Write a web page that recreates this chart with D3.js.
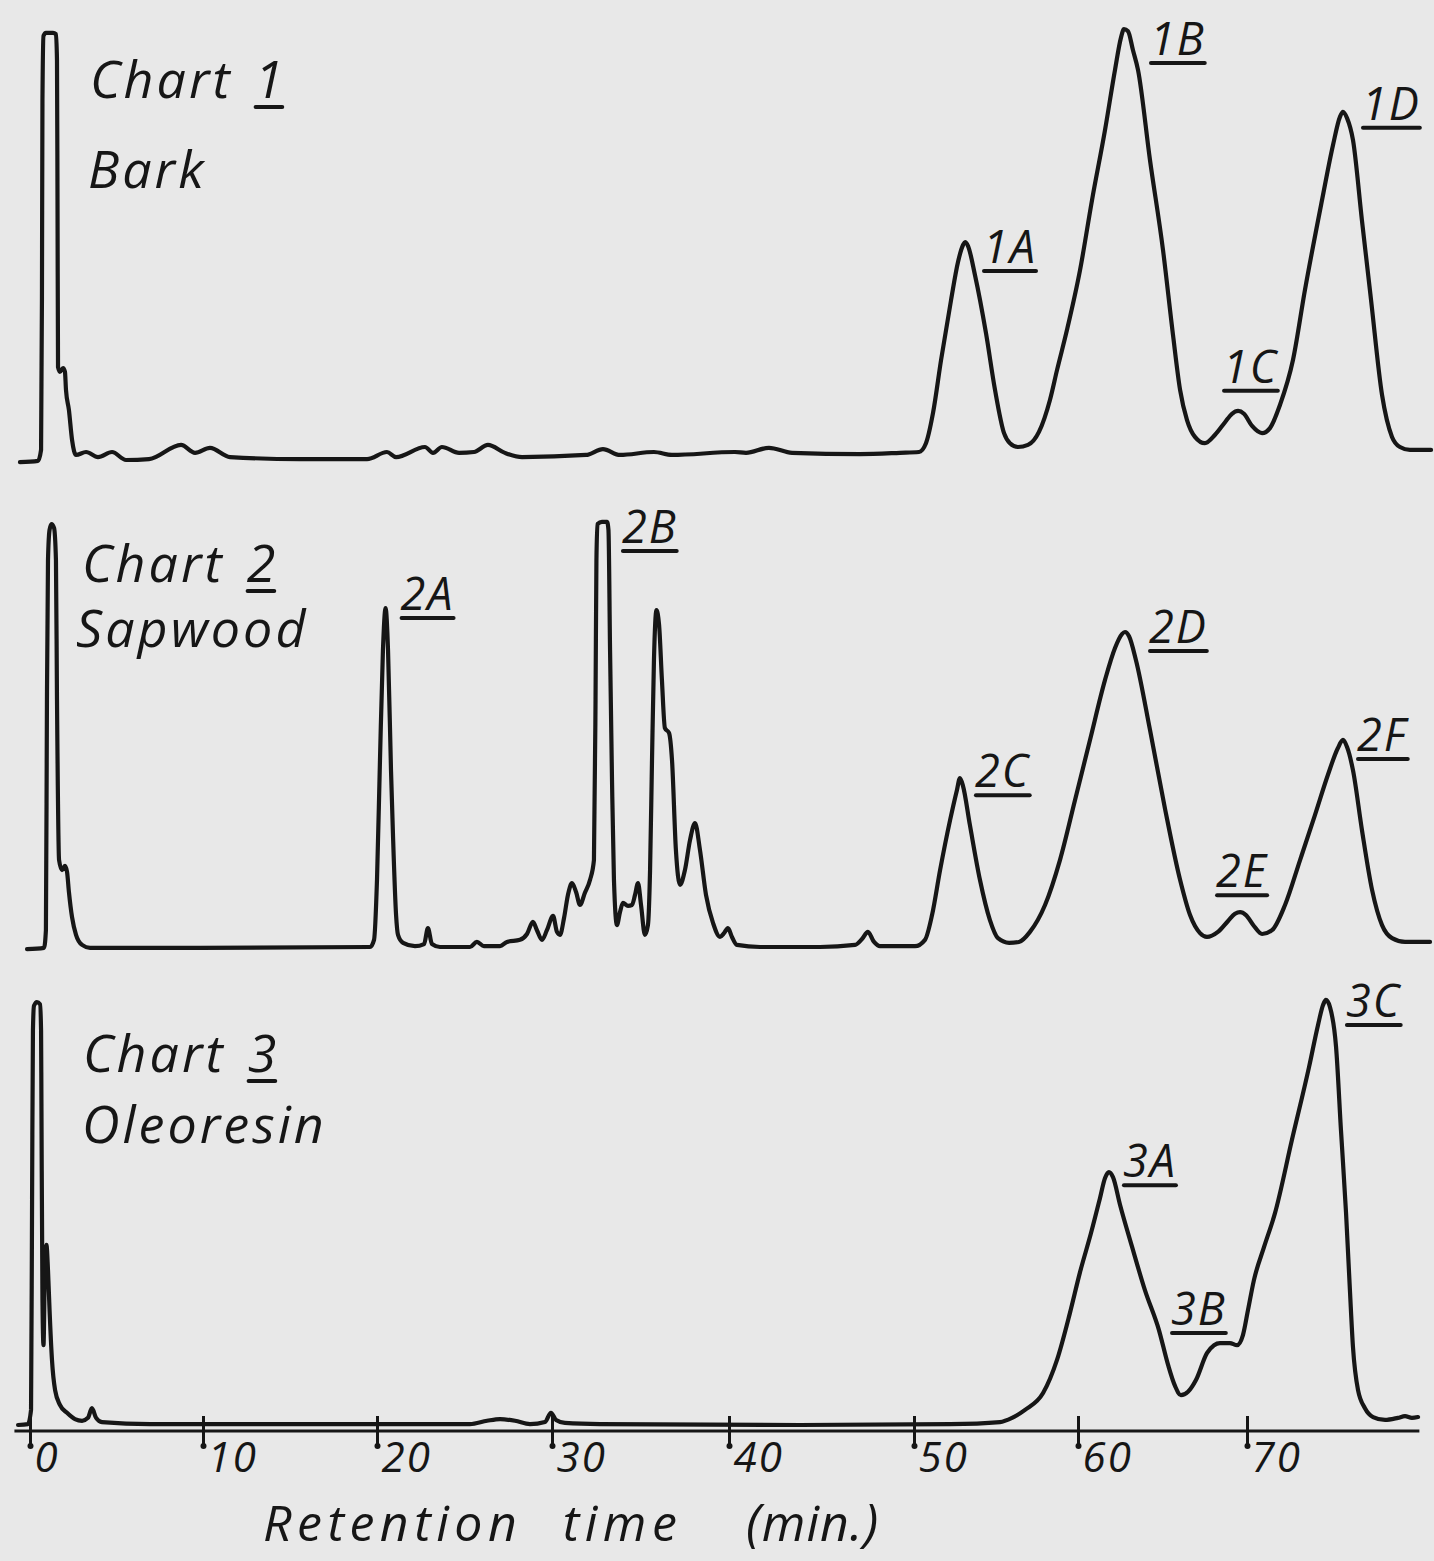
<!DOCTYPE html>
<html><head><meta charset="utf-8">
<script src="https://cdn.jsdelivr.net/npm/d3@7/dist/d3.min.js"></script>
<style>
html,body{margin:0;padding:0;background:#e8e8e8;}
svg{display:block;}
text{font-family:"Open Sans",sans-serif;font-style:italic;fill:#161616;}
</style></head><body>
<svg id="chart" width="1434" height="1561"></svg>
<script>
// ---------- DATA (time in min, detector response in % of full scale) ----------
const tickValues = [0, 10, 20, 30, 40, 50, 60, 70];
const tickLabels = ["0", "10", "20", "30", "40", "50", "60", "70"];

const chartNumbers = ["1", "2", "3"];
const sampleNames = ["Bark", "Sapwood", "Oleoresin"];

// Chart 1 – Bark
const barkTrace = [
  [-0.58,-0.5],[0.46,-0.2],[0.64,2.4],[0.69,38.1],[0.72,85.7],[0.78,101.0],[0.92,101.7],[1.33,101.7],
  [1.50,101.4],[1.56,95.2],[1.59,61.9],[1.62,22.1],[1.73,21.0],[1.91,21.9],[2.02,21.0],[2.08,16.7],
  [2.25,11.9],[2.43,4.8],[2.66,1.2],[3.24,1.9],[3.93,0.7],[4.74,1.9],[5.55,0],[6.88,0.2],[8.73,3.6],
  [9.54,1.7],[10.40,2.9],[11.55,0.7],[15.57,0.2],[19.43,0.2],[20.57,1.9],[21.09,0.7],[22.74,3.1],
  [23.20,1.7],[23.71,3.1],[24.69,1.7],[25.54,1.9],[26.34,3.6],[27.31,1.7],[28.29,0.7],[31.92,1.2],
  [32.88,2.6],[33.84,1.2],[35.76,1.9],[36.78,1.2],[40.32,1.9],[40.92,1.7],[42.16,2.9],[43.41,1.7],
  [47.08,1.4],[49.24,1.7],[50.30,1.9],[50.73,4.0],[51.16,11.2],[51.65,23.8],[52.26,38.1],[52.68,47.1],
  [52.99,51.2],[53.11,51.9],[53.29,51.0],[53.72,44.0],[54.39,30.2],[54.94,16.7],[55.49,6.4],[55.85,4.0],
  [56.34,3.1],[56.95,3.6],[57.62,6.7],[58.29,14.3],[58.72,21.4],[59.33,31.0],[60.12,45.2],[60.83,61.9],
  [61.60,78.6],[62.19,92.9],[62.54,100.5],[62.72,102.6],[62.96,102.1],[63.25,97.6],[63.55,92.9],
  [64.26,71.4],[65.03,50.0],[65.62,29.8],[66.04,16.7],[66.45,9.5],[66.92,5.5],[67.51,4.0],[68.11,6.0],
  [68.70,9.0],[69.11,11.0],[69.47,11.7],[69.82,11.0],[70.30,8.1],[70.89,6.4],[71.36,7.6],[71.95,13.1],
  [72.72,23.8],[73.43,40.5],[74.44,61.9],[75.09,75.0],[75.50,81.7],[75.68,82.9],[75.92,81.4],[76.27,76.2],
  [76.80,57.1],[77.34,38.1],[77.99,15.5],[78.58,5.5],[79.05,3.1],[79.64,2.4],[80.89,2.4]
];

// Chart 2 – Sapwood
const sapwoodTrace = [
  [-0.17,-0.5],[0.81,-0.2],[0.92,4.0],[0.98,59.0],[1.04,92.1],[1.13,99.3],[1.24,100.7],[1.39,99.8],
  [1.50,92.1],[1.56,59.0],[1.68,20.7],[1.85,18.3],[2.02,19.3],[2.14,17.9],[2.25,13.1],[2.43,7.1],
  [2.66,2.9],[3.01,0.5],[3.47,-0.2],[9.83,-0.2],[19.60,0],[19.83,1.7],[20.00,16.0],[20.17,44.5],
  [20.34,70.7],[20.49,80.7],[20.63,70.7],[20.80,42.1],[20.91,27.1],[21.09,7.6],[21.20,2.9],[21.49,1.0],
  [22.17,0.2],[22.69,0.7],[22.91,4.5],[23.14,0.7],[23.60,0],[25.31,0],[25.71,1.2],[26.11,0.2],
  [27.03,0.2],[27.43,1.2],[28.17,1.7],[28.57,3.1],[28.91,6.0],[29.14,4.0],[29.43,1.7],[29.71,4.0],
  [30.06,7.4],[30.28,3.6],[30.45,2.9],[30.68,6.9],[30.90,12.4],[31.13,15.2],[31.36,13.1],[31.58,10.0],
  [31.86,12.9],[32.15,16.0],[32.37,20.7],[32.46,59.0],[32.51,92.1],[32.57,100.7],[32.82,101.2],
  [33.11,101.2],[33.19,99.3],[33.28,70.7],[33.39,39.8],[33.50,16.0],[33.67,5.2],[33.84,8.3],[34.01,10.5],
  [34.29,9.8],[34.52,10.0],[34.69,12.4],[34.86,15.2],[35.03,10.0],[35.25,2.9],[35.42,5.2],[35.54,18.3],
  [35.65,44.5],[35.76,68.3],[35.90,80.2],[36.05,76.7],[36.21,63.6],[36.38,52.1],[36.61,51.0],[36.78,44.5],
  [37.00,23.1],[37.23,14.8],[37.51,18.3],[37.80,25.5],[38.08,29.5],[38.36,23.1],[38.70,12.4],[39.10,5.7],
  [39.49,2.4],[39.72,3.3],[39.94,4.5],[40.16,2.4],[40.43,0.5],[41.68,0],[44.92,0],[46.81,0.5],
  [47.19,1.9],[47.51,3.6],[47.84,1.2],[48.16,0.2],[50.06,0.2],[50.67,1.7],[51.10,7.6],[51.59,18.3],
  [52.20,30.2],[52.62,37.4],[52.80,40.2],[52.99,38.3],[53.41,29.0],[54.02,16.0],[54.63,6.4],[55.12,2.1],
  [55.80,1.0],[56.40,1.2],[57.07,3.6],[57.99,10.0],[58.90,20.7],[59.82,35.0],[60.71,49.3],[61.60,63.6],
  [62.19,71.2],[62.60,74.5],[62.78,75.0],[63.02,74.0],[63.43,68.3],[64.26,51.7],[65.15,32.9],[66.04,16.0],
  [66.63,7.6],[67.22,3.3],[67.63,2.4],[68.28,3.6],[68.88,6.2],[69.29,7.9],[69.59,8.3],[69.94,7.6],
  [70.41,5.0],[70.89,3.1],[71.48,4.0],[72.25,10.0],[73.14,20.7],[74.02,31.4],[74.79,41.0],[75.38,47.4],
  [75.68,49.3],[75.92,47.6],[76.27,42.1],[76.80,27.9],[77.40,13.6],[77.99,5.2],[78.58,2.1],[79.35,1.2],
  [80.83,1.2]
];

// Chart 3 – Oleoresin
const oleoresinTrace = [
  [-0.69,0],[-0.12,0.2],[0.06,3.6],[0.12,53.6],[0.17,94.0],[0.23,99.8],[0.40,100.7],[0.58,100.2],
  [0.64,94.0],[0.66,77.4],[0.72,29.8],[0.78,19.0],[0.87,39.3],[0.95,42.9],[1.04,36.9],[1.13,27.4],
  [1.27,15.5],[1.45,8.3],[1.73,4.8],[2.14,2.9],[2.60,1.4],[3.01,1.0],[3.35,1.7],[3.58,4.0],[3.82,1.7],
  [4.16,0.7],[6.94,0.2],[15.57,0.2],[25.31,0.2],[26.29,1.0],[27.03,1.4],[27.89,1.0],[28.74,0.2],
  [29.60,0.7],[29.94,2.9],[30.23,1.2],[30.73,0.5],[32.71,0.2],[43.84,0],[52.20,0.2],[55.24,0.7],
  [55.98,1.7],[56.77,3.6],[57.87,7.6],[58.72,15.5],[59.51,26.7],[60.12,36.4],[60.77,45.7],[61.30,54.0],
  [61.60,58.8],[61.83,60.2],[62.07,59.0],[62.49,52.4],[63.20,42.4],[63.96,32.1],[64.79,22.6],[65.33,14.3],
  [65.74,9.3],[66.09,7.1],[66.51,7.9],[66.98,10.7],[67.63,17.1],[68.05,19.0],[68.40,19.5],[68.99,19.5],
  [69.41,19.0],[69.76,21.4],[70.06,27.4],[70.41,34.5],[71.01,42.4],[71.66,50.5],[72.66,67.9],[73.67,85.2],
  [74.20,95.2],[74.50,100.0],[74.67,101.2],[74.91,99.5],[75.27,90.0],[75.56,70.2],[75.86,50.5],
  [76.09,32.1],[76.27,18.6],[76.57,8.3],[76.98,4.0],[77.46,1.9],[78.17,1.2],[78.93,1.7],[79.35,2.1],
  [79.76,1.7],[80.12,1.9]
];

// Peak labels: name and the peak (time, response) they mark
const barkPeaks      = [["1A",53.11,51.9],["1B",62.72,102.6],["1C",69.47,11.7],["1D",75.68,82.9]];
const sapwoodPeaks   = [["2A",20.49,80.7],["2B",32.82,101.2],["2C",52.80,40.2],["2D",62.78,75.0],["2E",69.59,8.3],["2F",75.68,49.3]];
const oleoresinPeaks = [["3A",61.83,60.2],["3B",68.70,19.5],["3C",74.67,101.2]];

const axisTitle = "Retention time";
const axisUnit = "min.";

// ---------- LAYOUT ----------
const W = 1434, H = 1561;
const ink = "#161616";
const tickPixels = [30, 203, 377, 552, 729, 914, 1078, 1247]; // hand-drawn time axis
const x = d3.scaleLinear().domain(tickValues).range(tickPixels);

const panels = [
  {trace: barkTrace, peaks: barkPeaks, base: 460, titleX: 90, titleY: 98, nameX: 88, nameY: 188,
   labelOff: [[18,21],[26,26],[-15,-28],[19,8]]},
  {trace: sapwoodTrace, peaks: sapwoodPeaks, base: 947, titleX: 82, titleY: 582, nameX: 76, nameY: 647,
   labelOff: [[15,2],[20,21],[15,9],[24,11],[-24,-25],[14,11]]},
  {trace: oleoresinTrace, peaks: oleoresinPeaks, base: 1425, titleX: 83, titleY: 1072, nameX: 82, nameY: 1143,
   labelOff: [[14,5],[-54,-18],[20,17]]}
];
const fullScalePx = 420;

const svg = d3.select("#chart");
svg.append("rect").attr("width", W).attr("height", H).attr("fill", "#e8e8e8");

function underline(g, sel, gap) {
  const b = sel.node().getBBox();
  g.append("line")
    .attr("x1", b.x + 1).attr("x2", b.x + b.width - 1)
    .attr("y1", +sel.attr("y") + gap).attr("y2", +sel.attr("y") + gap)
    .attr("stroke", ink).attr("stroke-width", 4).attr("stroke-linecap", "round");
}

panels.forEach((p, i) => {
  const y = d3.scaleLinear().domain([0, 100]).range([p.base, p.base - fullScalePx]);
  const g = svg.append("g");
  const line = d3.line().x(d => x(d[0])).y(d => y(d[1])).curve(d3.curveMonotoneX);
  g.append("path").datum(p.trace).attr("d", line)
    .attr("fill", "none").attr("stroke", ink).attr("stroke-width", 4.2)
    .attr("stroke-linejoin", "round").attr("stroke-linecap", "round");

  // title
  const t1 = g.append("text").attr("x", p.titleX).attr("y", p.titleY)
    .attr("font-size", 52).attr("letter-spacing", 3).text("Chart");
  const tb = t1.node().getBBox();
  const num = g.append("text").attr("x", tb.x + tb.width + 22).attr("y", p.titleY)
    .attr("font-size", 52).text(chartNumbers[i]);
  underline(g, num, 9);
  g.append("text").attr("x", p.nameX).attr("y", p.nameY)
    .attr("font-size", 52).attr("letter-spacing", 3).text(sampleNames[i]);

  // peak labels
  p.peaks.forEach((pk, j) => {
    const [dx, dy] = p.labelOff[j];
    const lt = g.append("text").attr("x", x(pk[1]) + dx).attr("y", y(pk[2]) + dy)
      .attr("font-size", 45).attr("letter-spacing", 2).text(pk[0]);
    underline(g, lt, 8);
  });
});

// ---------- time axis ----------
const axisY = 1431;
const ax = svg.append("g").attr("transform", `translate(0,${axisY})`)
  .call(d3.axisBottom(x).tickValues(tickValues).tickFormat((d, i) => tickLabels[i]).tickSize(15));
ax.select(".domain").remove();
ax.selectAll(".tick line").attr("y1", -15).attr("y2", 15).attr("stroke", ink).attr("stroke-width", 3);
ax.selectAll(".tick").append("circle").attr("cy", 15).attr("r", 3).attr("fill", ink);
ax.selectAll(".tick text").attr("text-anchor", "start").attr("x", 4).attr("y", 41).attr("dy", null)
  .attr("font-size", 42).attr("font-family", '"Open Sans",sans-serif').attr("font-style", "italic")
  .attr("letter-spacing", 2).attr("fill", ink);
ax.append("line").attr("x1", x(-0.9)).attr("x2", x(80.2)).attr("y1", 0).attr("y2", 0)
  .attr("stroke", ink).attr("stroke-width", 3);

svg.append("text").attr("x", 263).attr("y", 1541).attr("font-size", 50)
  .attr("letter-spacing", 5.5).attr("word-spacing", 22).text(axisTitle);
const unit = svg.append("text").attr("x", 746).attr("y", 1541).attr("letter-spacing", 1);
unit.append("tspan").attr("font-size", 52).text("(");
unit.append("tspan").attr("font-size", 50).text(axisUnit);
unit.append("tspan").attr("font-size", 52).text(")");
</script>
</body></html>
